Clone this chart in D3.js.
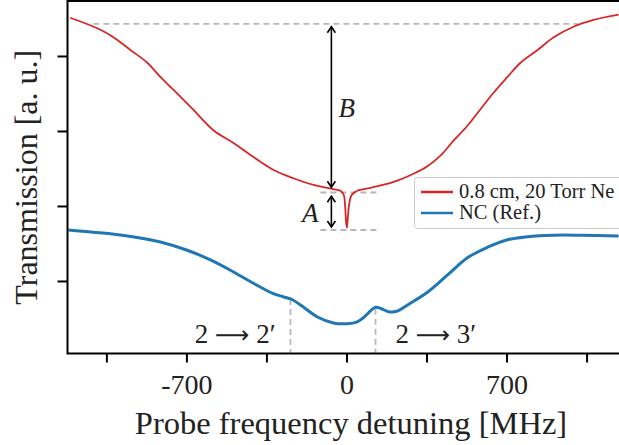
<!DOCTYPE html>
<html>
<head>
<meta charset="utf-8">
<script src="https://cdn.jsdelivr.net/npm/d3@7"></script>
<style>
  body { margin: 0; background: #fff; }
  svg text { font-family: "Liberation Serif", "DejaVu Serif", serif; fill: #222; }
</style>
</head>
<body>
<div id="viz"></div>
<script>
// red trace: 0.8 cm cell, 20 Torr Ne  (MHz, a.u.)
var redX = [-1208, -1076, -1019, -945, -871, -814, -757, -669, -582, -494, -420, -319, -232, -144, -83, -35,
            -25, -12, -6, -2, 2, 6, 12, 20, 30, 45,
            118, 206, 293, 354, 411, 468, 529, 586, 643, 704, 761, 836, 906, 993, 1081, 1190];
var redY = [4.51, 4.35, 4.25, 4.08, 3.91, 3.72, 3.55, 3.28, 3.01, 2.84, 2.68, 2.48, 2.37, 2.28, 2.24, 2.21,
            2.20, 2.15, 2.00, 1.80, 1.71, 1.85, 2.03, 2.13, 2.17, 2.20,
            2.25, 2.32, 2.43, 2.53, 2.67, 2.87, 3.07, 3.29, 3.51, 3.72, 3.91, 4.08, 4.25, 4.39, 4.48, 4.55];

// blue trace: natural cell reference
var blueX = [-1216, -1107, -958, -814, -696, -595, -494, -407, -319, -254, -236, -201, -127, -57, 4, 44, 74,
             105, 127, 153, 184, 223, 267, 354, 442, 529, 617, 704, 792, 906, 1024, 1190];
var blueY = [1.68, 1.65, 1.60, 1.52, 1.41, 1.28, 1.12, 0.97, 0.83, 0.77, 0.75, 0.68, 0.52, 0.44, 0.43, 0.45, 0.51,
             0.60, 0.65, 0.63, 0.59, 0.60, 0.68, 0.85, 1.08, 1.31, 1.45, 1.55, 1.59, 1.61, 1.61, 1.60];

var xTicks = [-1050, -700, -350, 0, 350, 700, 1050];
var xLabels = [-700, 0, 700];
var yTicks = [1, 2, 3, 4];

var width = 619, height = 445;
var mLeft = 67.5, mTop = 1, mBottom = 353.5, mRight = 640;

var x = d3.scaleLinear().domain([-1220, 1194]).range([mLeft, 619.5]);
var y = d3.scaleLinear().domain([0.033, 4.733]).range([mBottom, mTop]);

var svg = d3.select('#viz').append('svg')
  .attr('width', width)
  .attr('height', height);

svg.append('clipPath').attr('id', 'clip')
  .append('rect').attr('x', mLeft).attr('y', mTop).attr('width', mRight - mLeft).attr('height', mBottom - mTop);

var plot = svg.append('g').attr('clip-path', 'url(#clip)');

// dashed guide lines
var dashed = [
  [[-1107, 4.427], [1011, 4.427]],
  [[-114, 2.18], [136, 2.18]],
  [[-114, 1.68], [136, 1.68]],
  [[-245, 0.76], [-245, 0.033]],
  [[127, 0.63], [127, 0.033]]
];
dashed.forEach(function(seg){
  plot.append('line')
    .attr('x1', x(seg[0][0])).attr('y1', y(seg[0][1]))
    .attr('x2', x(seg[1][0])).attr('y2', y(seg[1][1]))
    .attr('stroke', '#b8b8b8').attr('stroke-width', 1.8)
    .attr('stroke-dasharray', '6,4');
});

var line = d3.line()
  .x(function(d){ return x(d[0]); })
  .y(function(d){ return y(d[1]); })
  .curve(d3.curveCatmullRom.alpha(0.5));

plot.append('path')
  .datum(redX.map(function(v, i){ return [v, redY[i]]; }))
  .attr('d', line)
  .attr('fill', 'none').attr('stroke', '#d62728').attr('stroke-width', 1.8);

plot.append('path')
  .datum(blueX.map(function(v, i){ return [v, blueY[i]]; }))
  .attr('d', line)
  .attr('fill', 'none').attr('stroke', '#1f77b4').attr('stroke-width', 3);

// double-headed arrows
function arrow(xv, y1, y2){
  var xp = x(xv), a = y(y1), b = y(y2);
  svg.append('line').attr('x1', xp).attr('x2', xp).attr('y1', a).attr('y2', b)
    .attr('stroke', '#000').attr('stroke-width', 1.6);
  svg.append('path')
    .attr('d', 'M' + (xp - 4) + ',' + (a + 6) + 'L' + xp + ',' + a + 'L' + (xp + 4) + ',' + (a + 6))
    .attr('fill', 'none').attr('stroke', '#000').attr('stroke-width', 1.6);
  svg.append('path')
    .attr('d', 'M' + (xp - 4) + ',' + (b - 6) + 'L' + xp + ',' + b + 'L' + (xp + 4) + ',' + (b - 6))
    .attr('fill', 'none').attr('stroke', '#000').attr('stroke-width', 1.6);
}
arrow(-66, 4.39, 2.25);
arrow(-66, 2.13, 1.72);

svg.append('text').attr('x', x(-35)).attr('y', y(3.19))
  .style('font-size', '27px').style('font-style', 'italic').text('B');
svg.append('text').attr('x', x(-122)).attr('y', y(1.787)).attr('text-anchor', 'end')
  .style('font-size', '27px').style('font-style', 'italic').text('A');

// transition labels, with a long math-style arrow
function transition(label, xv, anchor){
  var t = svg.append('text').attr('x', x(xv)).attr('y', y(0.173)).attr('text-anchor', anchor)
    .style('font-size', '27px');
  t.append('tspan').text('2 ');
  t.append('tspan').style('font-family', '"DejaVu Sans", sans-serif').style('font-size', '24px').text('\u27F6');
  t.append('tspan').text(' ' + label + '\u2032');
}
transition('2', -310, 'end');
transition('3', 214, 'start');

// axes
var xAxis = svg.append('g').attr('transform', 'translate(0,' + mBottom + ')')
  .call(d3.axisBottom(x).tickValues(xTicks).tickSize(9).tickPadding(12)
    .tickFormat(function(d){ return xLabels.indexOf(d) >= 0 ? d : ''; }));
xAxis.select('.domain').remove();
xAxis.selectAll('.tick line').attr('stroke', '#000').attr('stroke-width', 2);
xAxis.selectAll('.tick text').style('font-size', '28px')
  .style('font-family', '"Liberation Serif", serif').attr('fill', '#222');

var yAxis = svg.append('g').attr('transform', 'translate(' + mLeft + ',0)')
  .call(d3.axisLeft(y).tickValues(yTicks).tickSize(10).tickFormat(''));
yAxis.select('.domain').remove();
yAxis.selectAll('.tick line').attr('stroke', '#000').attr('stroke-width', 2);

// spines (left, bottom, top)
svg.append('path')
  .attr('d', 'M' + mRight + ',' + mTop + 'H' + mLeft + 'V' + mBottom + 'H' + mRight)
  .attr('fill', 'none').attr('stroke', '#000').attr('stroke-width', 2);

svg.append('text').attr('x', 351).attr('y', 434).attr('text-anchor', 'middle')
  .style('font-size', '32.5px').text('Probe frequency detuning [MHz]');
svg.append('text').attr('transform', 'translate(37,' + ((mTop + mBottom) / 2) + ') rotate(-90)')
  .attr('text-anchor', 'middle').style('font-size', '32px').text('Transmission [a. u.]');

// legend
var legend = svg.append('g');
legend.append('rect').attr('x', 414.5).attr('y', 177.5).attr('width', 230).attr('height', 51)
  .attr('rx', 3).attr('fill', '#fff').attr('fill-opacity', 0.8).attr('stroke', '#ccc').attr('stroke-width', 1);
var entries = [['0.8 cm, 20 Torr Ne', '#d62728'], ['NC (Ref.)', '#1f77b4']];
entries.forEach(function(e, i){
  var yy = 192 + i * 21;
  legend.append('line').attr('x1', 421).attr('x2', 453).attr('y1', yy).attr('y2', yy)
    .attr('stroke', e[1]).attr('stroke-width', 2.5);
  legend.append('text').attr('x', 459).attr('y', yy + 6).style('font-size', '20.5px').text(e[0]);
});
</script>
</body>
</html>
